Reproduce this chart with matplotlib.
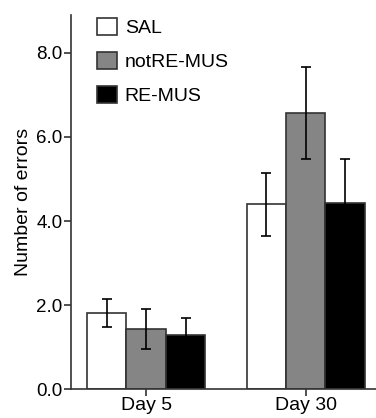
import numpy as np
import matplotlib
matplotlib.use("Agg")
import matplotlib.pyplot as plt

plt.rcParams.update({"font.family": ["Liberation Sans", "DejaVu Sans"], "font.size": 13.5})

days = ["Day 5", "Day 30"]
groups = ["SAL", "notRE-MUS", "RE-MUS"]
means = {
    "SAL": [1.81, 4.40],
    "notRE-MUS": [1.43, 6.57],
    "RE-MUS": [1.29, 4.43],
}
errs = {
    "SAL": [0.34, 0.75],
    "notRE-MUS": [0.48, 1.10],
    "RE-MUS": [0.41, 1.05],
}
colors = {"SAL": "white", "notRE-MUS": "#858585", "RE-MUS": "black"}
EDGE = "#333333"
ERR = "black"

fig = plt.figure(figsize=(3.76, 4.18), dpi=100)
ax = fig.add_axes([0.189, 0.069, 0.811, 0.895])

x = np.arange(len(days)); w = 0.247
for i, g in enumerate(groups):
    ax.bar(x + (i - 1) * w, means[g], w, color=colors[g], edgecolor=EDGE,
           lw=1.2, label=g, zorder=2)
    ax.errorbar(x + (i - 1) * w, means[g], yerr=errs[g], fmt="none",
                ecolor=ERR, elinewidth=1.2, capsize=3.3, capthick=1.2, zorder=3)

ax.set_xlim(-0.47, 1.44)
ax.set_ylim(0, 8.9)
ax.set_yticks([0, 2, 4, 6, 8])
ax.set_yticklabels([f"{v:.1f}" for v in [0, 2, 4, 6, 8]])
ax.set_xticks(x); ax.set_xticklabels(days, fontsize=14)
ax.set_ylabel("Number of errors", fontsize=14, labelpad=3)
for s in ["top", "right"]:
    ax.spines[s].set_visible(False)
for s in ["left", "bottom"]:
    ax.spines[s].set_color("#333333"); ax.spines[s].set_linewidth(1.2)
ax.tick_params(colors="#333333", labelcolor="black", width=1.2, length=5, pad=1)

ax.legend(loc="upper left", bbox_to_anchor=(97 / 376, 1 - 18 / 418),
          bbox_transform=fig.transFigure, frameon=False, borderpad=0,
          fontsize=14, handlelength=1.03, handleheight=1.0, labelspacing=0.75,
          handletextpad=0.4, borderaxespad=0)

plt.savefig("out.png", dpi=100)
